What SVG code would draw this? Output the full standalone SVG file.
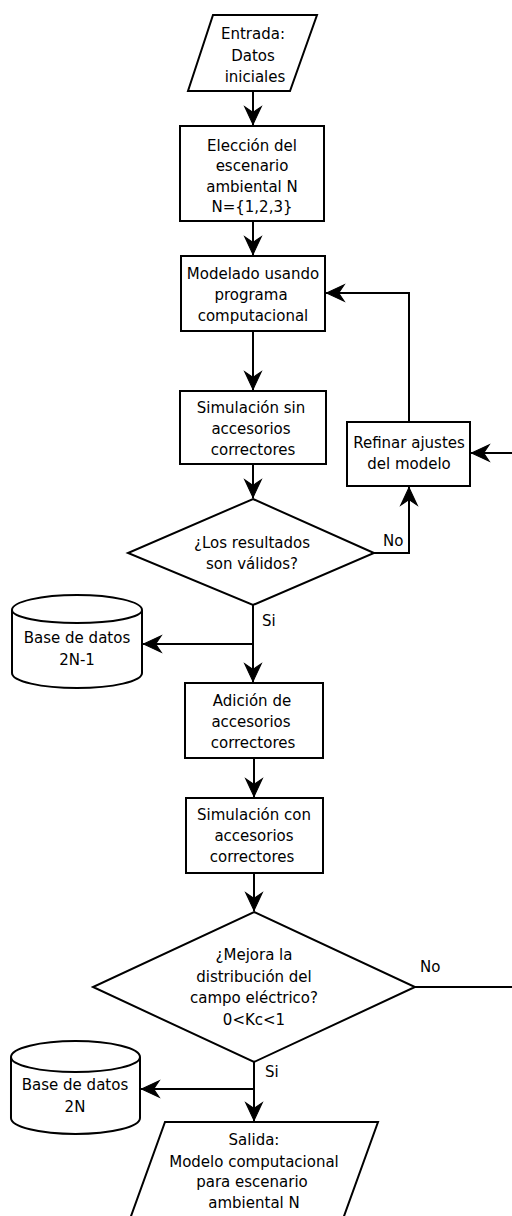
<svg xmlns="http://www.w3.org/2000/svg" width="512" height="1216" viewBox="0 0 512 1216">
<defs>
<style>
.s{fill:#fff;stroke:#000;stroke-width:2}
.c{fill:none;stroke:#000;stroke-width:2}
.t{font-family:"DejaVu Sans",Verdana,sans-serif;font-size:15px;fill:#000;text-anchor:middle}
.l{font-family:"DejaVu Sans",Verdana,sans-serif;font-size:15px;fill:#000}
</style>
<marker id="ah" markerUnits="userSpaceOnUse" markerWidth="22" markerHeight="22" viewBox="-19 -10 20 20" refX="0" refY="0" orient="auto">
<path d="M-0.5,0 L-16.5,-7.5 L-11.5,0 L-16.5,7.5 Z" fill="#000" stroke="#000" stroke-width="1" stroke-linejoin="miter"/>
</marker>
</defs>
<rect width="512" height="1216" fill="#fff"/>
<g id="connectors">
<path class="c" d="M253,91 V125" marker-end="url(#ah)"/>
<path class="c" d="M253,221 V255" marker-end="url(#ah)"/>
<path class="c" d="M253,331 V390" marker-end="url(#ah)"/>
<path class="c" d="M253,464 V498" marker-end="url(#ah)"/>
<path class="c" d="M374,553 H409 V487" marker-end="url(#ah)"/>
<path class="c" d="M409,422 V293 H326" marker-end="url(#ah)"/>
<path class="c" d="M512,453 H471" marker-end="url(#ah)"/>
<path class="c" d="M253,605 V682" marker-end="url(#ah)"/>
<path class="c" d="M253,644 H143" marker-end="url(#ah)"/>
<path class="c" d="M254,758 V797" marker-end="url(#ah)"/>
<path class="c" d="M254,873 V911" marker-end="url(#ah)"/>
<path class="c" d="M415,987 H512"/>
<path class="c" d="M254,1062 V1121" marker-end="url(#ah)"/>
<path class="c" d="M254,1089 H141" marker-end="url(#ah)"/>
<text class="l" x="383" y="546">No</text>
<text class="l" x="262" y="626">Si</text>
<text class="l" x="420" y="972">No</text>
<text class="l" x="265" y="1077">Si</text>
</g>
<g id="entrada">
<path class="s" d="M213,15 H317 L290,91 H188 Z"/>
<text class="t" x="253" y="39">Entrada:</text>
<text class="t" x="253" y="61">Datos</text>
<text class="t" x="255" y="82">iniciales</text>
</g>
<g id="eleccion">
<rect class="s" x="180" y="126" width="144" height="95"/>
<text class="t" x="252" y="151">Elección del</text>
<text class="t" x="252" y="171">escenario</text>
<text class="t" x="252" y="192">ambiental N</text>
<text class="t" x="252" y="212">N={1,2,3}</text>
</g>
<g id="modelado">
<rect class="s" x="181" y="256" width="144" height="75"/>
<text class="t" x="253" y="279">Modelado usando</text>
<text class="t" x="251" y="300">programa</text>
<text class="t" x="253" y="321">computacional</text>
</g>
<g id="simulacion-sin">
<rect class="s" x="180" y="391" width="146" height="73"/>
<text class="t" x="251" y="413">Simulación sin</text>
<text class="t" x="251" y="434">accesorios</text>
<text class="t" x="253" y="455">correctores</text>
</g>
<g id="refinar">
<rect class="s" x="347" y="422" width="123" height="64"/>
<text class="t" x="409" y="448">Refinar ajustes</text>
<text class="t" x="409" y="469">del modelo</text>
</g>
<g id="decision1">
<path class="s" d="M253,499 L374,553 L253,605 L128,553 Z"/>
<text class="t" x="252" y="548">¿Los resultados</text>
<text class="t" x="252" y="569">son válidos?</text>
</g>
<g id="bd1">
<path class="s" d="M12,610 A65,15 0 0 1 142,610 V673 A65,15 0 0 1 12,673 Z"/>
<path class="c" d="M12,610 A65,13 0 0 0 142,610"/>
<text class="t" x="77" y="643">Base de datos</text>
<text class="t" x="77" y="665">2N-1</text>
</g>
<g id="adicion">
<rect class="s" x="185" y="683" width="138" height="75"/>
<text class="t" x="252" y="706">Adición de</text>
<text class="t" x="251" y="727">accesorios</text>
<text class="t" x="253" y="748">correctores</text>
</g>
<g id="simulacion-con">
<rect class="s" x="186" y="798" width="137" height="75"/>
<text class="t" x="254" y="820">Simulación con</text>
<text class="t" x="254" y="841">accesorios</text>
<text class="t" x="252" y="862">correctores</text>
</g>
<g id="decision2">
<path class="s" d="M254,912 L415,987 L254,1062 L93,987 Z"/>
<text class="t" x="254" y="960">¿Mejora la</text>
<text class="t" x="254" y="982">distribución del</text>
<text class="t" x="254" y="1003">campo eléctrico?</text>
<text class="t" x="254" y="1025">0&lt;Kc&lt;1</text>
</g>
<g id="bd2">
<path class="s" d="M11,1057 A64.5,16 0 0 1 140,1057 V1118 A64.5,16 0 0 1 11,1118 Z"/>
<path class="c" d="M11,1057 A64.5,15 0 0 0 140,1057"/>
<text class="t" x="75" y="1090">Base de datos</text>
<text class="t" x="75" y="1112">2N</text>
</g>
<g id="salida">
<path class="s" d="M165,1122 H378 L339,1230 H126 Z"/>
<text class="t" x="254" y="1145">Salida:</text>
<text class="t" x="254" y="1167">Modelo computacional</text>
<text class="t" x="252" y="1187">para escenario</text>
<text class="t" x="254" y="1208">ambiental N</text>
</g>
</svg>
